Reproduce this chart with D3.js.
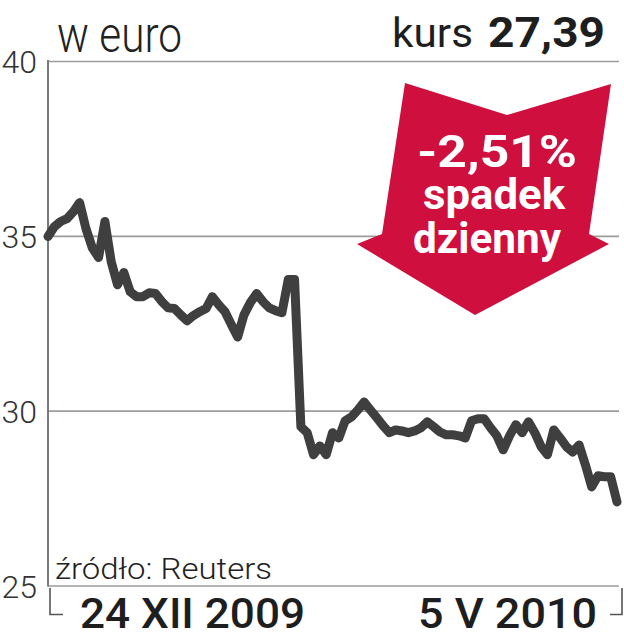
<!DOCTYPE html>
<html><head><meta charset="utf-8">
<script src="https://cdn.jsdelivr.net/npm/d3@7"></script>
<style>body{margin:0;background:#fff}svg{display:block}</style>
</head><body><svg id="c" width="624" height="640"></svg>
<script>
// ---- data ----
const prices = [34.98,35.26,35.41,35.49,35.69,35.95,35.21,34.66,34.38,35.41,
  34.26,33.60,33.95,33.40,33.26,33.26,33.37,33.35,33.12,32.94,
  32.92,32.74,32.57,32.72,32.83,32.92,33.26,33.03,32.83,32.46,
  32.11,32.74,33.09,33.35,33.12,32.94,32.86,32.80,33.75,33.75,
  29.54,29.37,28.74,28.99,28.74,29.37,29.22,29.71,29.82,30.02,
  30.25,30.02,29.80,29.57,29.37,29.45,29.42,29.37,29.42,29.51,
  29.68,29.54,29.39,29.31,29.31,29.28,29.22,29.71,29.77,29.77,
  29.51,29.28,28.88,29.28,29.60,29.37,29.68,29.37,28.97,28.74,
  29.45,29.22,28.97,28.82,29.02,28.45,27.82,28.14,28.11,28.11,27.39];
const yTicks = [25, 30, 35, 40];
const dateLabels = ["24 XII 2009", "5 V 2010"];
const unitLabel = "w euro";
const priceLabel = "kurs";
const lastPrice = "27,39";
const changeLines = ["-2,51%", "spadek", "dzienny"];
const sourceLabel = "źródło: Reuters";

// ---- layout ----
(function () {
const svg = d3.select("#c");
const mL = 48, mR = 619, mT = 61, mB = 585.5;
const x = d3.scaleLinear().domain([0, prices.length - 1]).range([mL, 617]);
const y = d3.scaleLinear().domain([25, 40]).range([mB, mT]);

// gridlines via axis
const grid = svg.append("g").attr("transform", `translate(${mL},0)`)
  .call(d3.axisRight(y).tickValues(yTicks).tickSize(mR - mL).tickFormat(""));
grid.select(".domain").remove();
grid.selectAll(".tick line").attr("stroke", "#9c9c9c").attr("stroke-width", 1.6);

// tick labels
const lab = svg.append("g").attr("transform", `translate(37,0)`)
  .call(d3.axisLeft(y).tickValues(yTicks).tickSize(0).tickPadding(0).tickFormat(d3.format("d")));
lab.select(".domain").remove();
lab.selectAll(".tick text").attr("font-family", "Roboto").attr("font-weight", 300)
  .attr("font-size", 32).attr("fill", "#333").attr("dy", "0.36em");

// left axis line
svg.append("line").attr("x1", mL).attr("x2", mL).attr("y1", mT - 1).attr("y2", mB + 1)
  .attr("stroke", "#7a7a7a").attr("stroke-width", 2);

// date brackets
svg.append("path").attr("d", `M50,588V614.5H63`).attr("fill", "none").attr("stroke", "#555").attr("stroke-width", 1.6);
svg.append("path").attr("d", `M622,588V614.5H610`).attr("fill", "none").attr("stroke", "#555").attr("stroke-width", 1.6);

// red arrow annotation
const arrowPts = [[405,83],[507,115],[611,84],[589,234],[609,244],[475,315],[357,244],[382,234]];
svg.append("path").attr("d", d3.line()(arrowPts) + "Z").attr("fill", "#cf0f3e");
const ax = [497, 494, 487], ay = [167, 209, 253], aw = [160, 142, 148];
const at = svg.append("text").attr("text-anchor", "middle").attr("font-family", "Roboto")
  .attr("font-weight", 700).attr("fill", "#fff");
at.selectAll("tspan").data(changeLines).join("tspan")
  .attr("x", (d, i) => ax[i]).attr("y", (d, i) => ay[i])
  .attr("font-size", (d, i) => i === 0 ? 45 : 42)
  .attr("textLength", (d, i) => aw[i]).attr("lengthAdjust", "spacingAndGlyphs")
  .text(d => d);

// price line
svg.append("path").datum(prices)
  .attr("d", d3.line().x((d, i) => x(i)).y(d => y(d)))
  .attr("fill", "none").attr("stroke", "#3f3f3f").attr("stroke-width", 9)
  .attr("stroke-linejoin", "round").attr("stroke-linecap", "round");

// titles
svg.append("text").attr("x", 57).attr("y", 52).attr("font-family", "Roboto").attr("font-weight", 300)
  .attr("font-size", 50).attr("fill", "#222").attr("textLength", 125).attr("lengthAdjust", "spacingAndGlyphs")
  .text(unitLabel);
const kt = svg.append("text").attr("y", 47).attr("font-family", "Roboto").attr("fill", "#1e1e1e");
kt.append("tspan").attr("x", 392).attr("font-weight", 400).attr("font-size", 41)
  .attr("textLength", 81).attr("lengthAdjust", "spacingAndGlyphs").text(priceLabel);
kt.append("tspan").attr("x", 488).attr("font-weight", 700).attr("font-size", 42)
  .attr("textLength", 117).attr("lengthAdjust", "spacingAndGlyphs").text(lastPrice);

// source
svg.append("text").attr("x", 55).attr("y", 579).attr("font-family", "Roboto").attr("font-weight", 300)
  .attr("font-size", 29).attr("fill", "#222").attr("textLength", 217).attr("lengthAdjust", "spacingAndGlyphs")
  .text(sourceLabel);

// date labels
svg.append("text").attr("x", 80).attr("y", 628).attr("font-family", "Roboto").attr("font-weight", 500)
  .attr("font-size", 42).attr("fill", "#1e1e1e").attr("textLength", 225).attr("lengthAdjust", "spacingAndGlyphs")
  .text(dateLabels[0]);
svg.append("text").attr("x", 418).attr("y", 628).attr("font-family", "Roboto").attr("font-weight", 500)
  .attr("font-size", 42).attr("fill", "#1e1e1e").attr("textLength", 179).attr("lengthAdjust", "spacingAndGlyphs")
  .text(dateLabels[1]);
})();
</script></body></html>
